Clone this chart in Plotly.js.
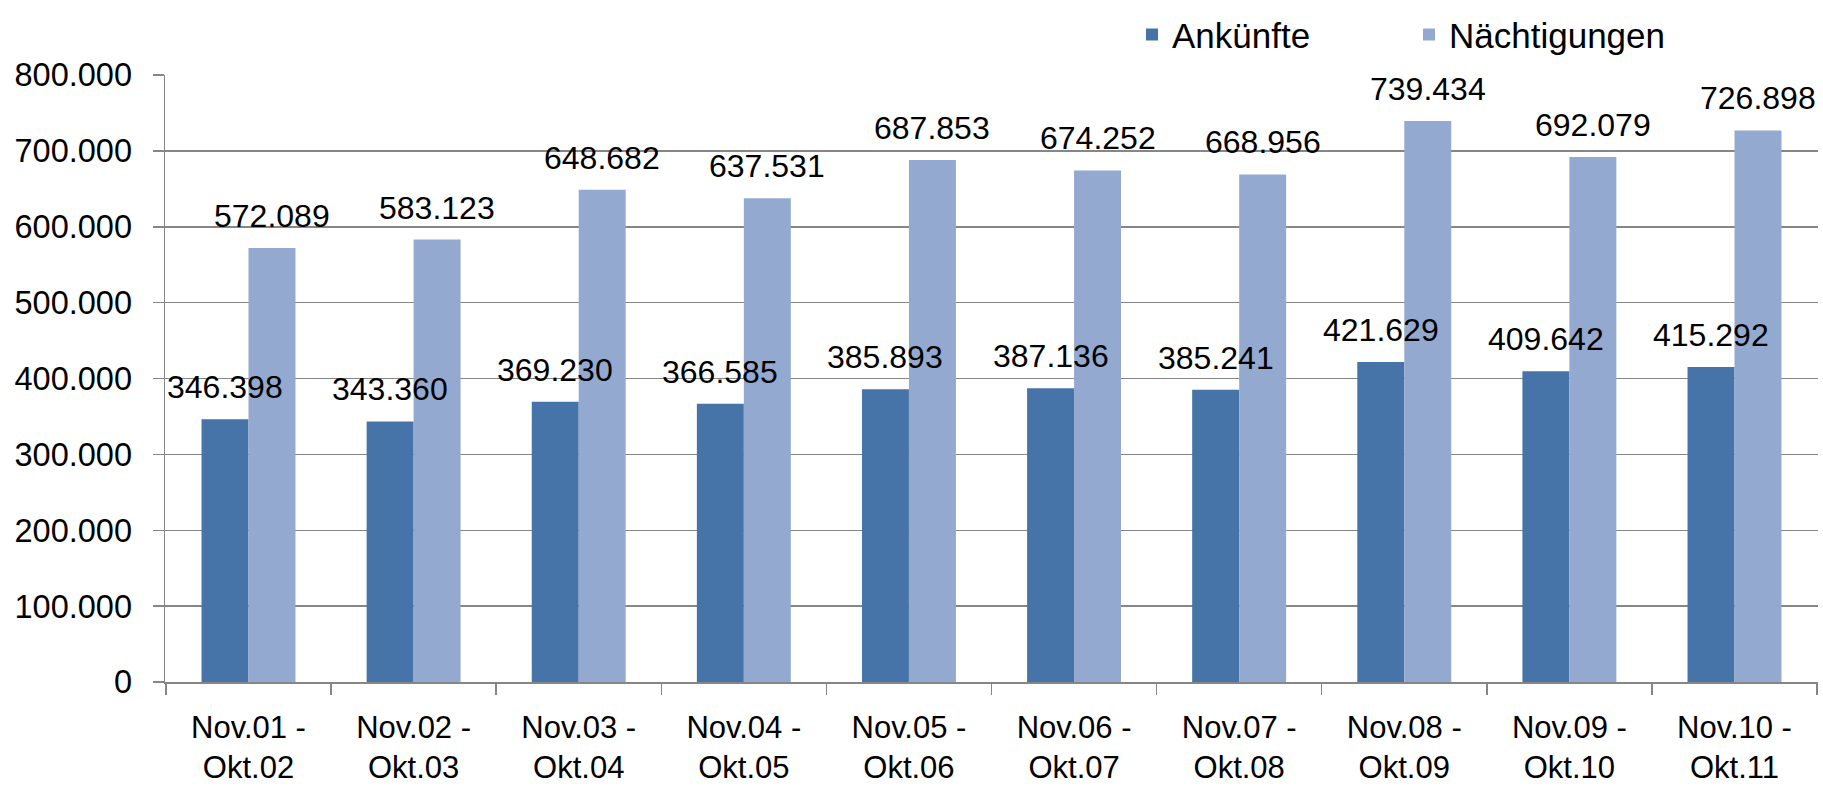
<!DOCTYPE html>
<html>
<head>
<meta charset="utf-8">
<script src="https://cdn.plot.ly/plotly-3.0.1.min.js"></script>
<style>
  html, body { margin: 0; padding: 0; background: #fff; }
  #myPlot { width: 1823px; height: 788px; }
</style>
</head>
<body>
<div id="myPlot"></div>
<script>
// Ankünfte / Nächtigungen per Tourismusjahr (Nov - Okt)
var categories = ["Nov.01 -<br>Okt.02", "Nov.02 -<br>Okt.03", "Nov.03 -<br>Okt.04", "Nov.04 -<br>Okt.05",
    "Nov.05 -<br>Okt.06", "Nov.06 -<br>Okt.07", "Nov.07 -<br>Okt.08", "Nov.08 -<br>Okt.09",
    "Nov.09 -<br>Okt.10", "Nov.10 -<br>Okt.11"];
var ankuenfte = [346398, 343360, 369230, 366585, 385893, 387136, 385241, 421629, 409642, 415292];
var naechtigungen = [572089, 583123, 648682, 637531, 687853, 674252, 668956, 739434, 692079, 726898];
var yTicks = [0, 100000, 200000, 300000, 400000, 500000, 600000, 700000, 800000];

var FONT = "Liberation Sans, Arial, sans-serif";

// german thousands separator
function fmt(v) {
    return String(v).replace(/\B(?=(\d{3})+(?!\d))/g, ".");
}

var trace1 = {
    x: categories,
    y: ankuenfte,
    name: 'Ankünfte',
    type: 'bar',
    marker: {color: '#4673a8'},
    hoverinfo: 'none'
};
var trace2 = {
    x: categories,
    y: naechtigungen,
    name: 'Nächtigungen',
    type: 'bar',
    marker: {color: '#94a9d0'},
    hoverinfo: 'none'
};

// value labels above each bar
var annotations = [];
for (var i = 0; i < categories.length; i++) {
    annotations.push({
        x: categories[i], y: ankuenfte[i], xref: 'x', yref: 'y',
        text: fmt(ankuenfte[i]), showarrow: false, yanchor: 'bottom',
        xshift: -23.5, yshift: 12, font: {family: FONT, size: 32, color: '#000'}
    });
    annotations.push({
        x: categories[i], y: naechtigungen[i], xref: 'x', yref: 'y',
        text: fmt(naechtigungen[i]), showarrow: false, yanchor: 'bottom',
        xshift: 23.5, yshift: 12, font: {family: FONT, size: 32, color: '#000'}
    });
}

var layout = {
    width: 1823,
    height: 788,
    margin: {l: 165, r: 5, t: 73, b: 106},
    paper_bgcolor: '#fff',
    plot_bgcolor: '#fff',
    separators: ',.',
    barmode: 'group',
    bargap: 0.431,
    bargroupgap: 0,
    font: {family: FONT, size: 32, color: '#000'},
    showlegend: true,
    legend: {
        orientation: 'h',
        x: 0.585, xanchor: 'left',
        y: 1.115, yanchor: 'top',
        font: {family: FONT, size: 35, color: '#000'},
        entrywidth: 232, entrywidthmode: 'pixels',
        itemwidth: 30,
        bgcolor: 'rgba(0,0,0,0)'
    },
    xaxis: {
        type: 'category',
        tickson: 'boundaries',
        ticks: 'outside',
        ticklen: 11,
        tickcolor: '#868686',
        tickwidth: 1.5,
        showline: true,
        linecolor: '#868686',
        linewidth: 1.5,
        showgrid: false,
        ticklabelstandoff: 17,
        tickfont: {family: FONT, size: 31, color: '#000'}
    },
    yaxis: {
        range: [0, 800000],
        tickvals: yTicks,
        ticktext: yTicks.map(fmt),
        ticks: 'outside',
        ticklen: 11,
        tickcolor: '#868686',
        tickwidth: 1.5,
        showline: true,
        linecolor: '#868686',
        linewidth: 1.5,
        showgrid: true,
        gridcolor: '#868686',
        gridwidth: 1.5,
        zeroline: false,
        ticklabelstandoff: 14,
        tickfont: {family: FONT, size: 32.5, color: '#000'}
    },
    annotations: annotations
};

Plotly.newPlot('myPlot', [trace1, trace2], layout, {staticPlot: true});
</script>
</body>
</html>
